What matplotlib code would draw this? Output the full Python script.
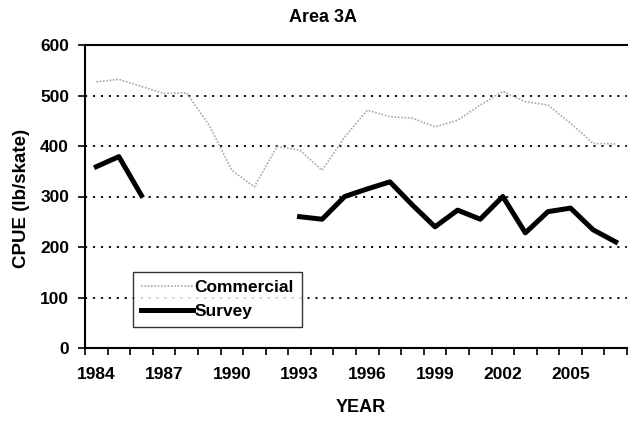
import numpy as np
import matplotlib
matplotlib.use('Agg')
import matplotlib.pyplot as plt

plt.rcParams['font.family'] = ['Liberation Sans', 'DejaVu Sans']
plt.rcParams['font.weight'] = 'bold'

years = list(range(1984, 2008))
commercial = [527, 532, 518, 504, 505, 441, 352, 319, 399, 392, 352, 418,
              471, 458, 455, 438, 451, 481, 508, 488, 481, 445, 405, 404]
survey = [359, 379, 302, None, None, None, None, None, None, 260, 255, 300,
          315, 329, 283, 240, 273, 255, 300, 228, 270, 277, 234, 210]
tick_years = [1984, 1987, 1990, 1993, 1996, 1999, 2002, 2005]

x = np.arange(len(years))
surv = np.array([np.nan if v is None else v for v in survey], dtype=float)

W, H = 631, 421
fig = plt.figure(figsize=(W / 100, H / 100), dpi=100)
ax = fig.add_axes([85 / W, 1 - 348 / H, 542 / W, 303 / H])

# dotted excel-style gridlines
for yv in range(100, 601, 100):
    ax.axhline(yv, color='black', lw=1.3, ls=(0, (1.2, 3.2)), zorder=1)

ax.plot(x, commercial, color='#a8a8a8', lw=1.2, ls=(0, (1, 1)), label='Commercial', zorder=2)
ax.plot(x, surv, color='black', lw=3.6, label='Survey', zorder=3)

ax.set_xlim(-0.5, len(years) - 0.5)
ax.set_ylim(0, 600)
ax.set_yticks(range(0, 601, 100))
ax.set_xticks([years.index(t) for t in tick_years])
ax.set_xticklabels([str(t) for t in tick_years])
ax.set_xticks(np.arange(-0.5, len(years), 1), minor=True)
ax.tick_params(axis='x', which='major', length=0, pad=14, labelsize=12.5)
ax.tick_params(axis='x', which='minor', length=5, width=1.2, direction='out')
ax.tick_params(axis='y', length=5, width=1.2, direction='out', pad=6.5, labelsize=12.5)

for s in ['left', 'bottom', 'top']:
    ax.spines[s].set_linewidth(1.5)
ax.spines['right'].set_visible(False)

fig.text(323 / W, 1 - 17 / H, 'Area 3A', fontsize=13, fontweight='bold',
         ha='center', va='center')
fig.text(361 / W, 1 - 408 / H, 'YEAR', fontsize=13, fontweight='bold',
         ha='center', va='center')
fig.text(22 / W, 1 - 198 / H, 'CPUE (lb/skate)', fontsize=13.5, fontweight='bold',
         ha='center', va='center', rotation=90)

leg = ax.legend(loc='lower left', bbox_to_anchor=(0.0886, 0.069), borderaxespad=0,
                fontsize=12.5, frameon=True, fancybox=False, edgecolor='black',
                handlelength=3.0, handletextpad=0.1, borderpad=0.45, labelspacing=0.55)
leg.get_frame().set_linewidth(1.0)

fig.savefig('out.png', dpi=100)
